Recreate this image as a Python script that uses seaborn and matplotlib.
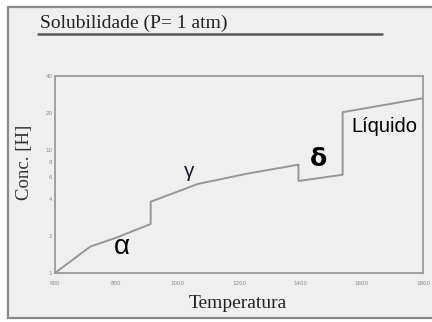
import matplotlib
matplotlib.use("Agg")
import matplotlib.pyplot as plt
import seaborn as sns
import numpy as np
from matplotlib.patches import Rectangle
from matplotlib.lines import Line2D
from matplotlib.ticker import FixedLocator, FixedFormatter, NullFormatter

# Data
temperature = [600, 715, 803, 895, 912, 912, 1066, 1230, 1394, 1394, 1538, 1538, 1800]
concentration = [1.0, 1.64, 1.95, 2.41, 2.5, 3.8, 5.3, 6.45, 7.6, 5.6, 6.3, 20.3, 26.4]
x_ticks = [600, 800, 1000, 1200, 1400, 1600, 1800]
y_ticks = [1, 2, 4, 6, 8, 10, 20, 40]
y_minor = [3, 5, 7, 9, 30]
phase_labels = ["α", "γ", "δ", "Líquido"]

sns.set_style("white")
W, H = 432, 322
fig = plt.figure(figsize=(W / 100, H / 100), dpi=100)
fig.patch.set_facecolor("white")

# panel background with border
fig.patches.append(Rectangle((8 / W, 4 / H), 1.05, 1 - 11 / H, transform=fig.transFigure,
                             facecolor="#efefef", edgecolor="#8a8a8a", lw=1.6, zorder=-5))

ax = fig.add_axes([55 / W, 1 - 273 / H, (423 - 55) / W, (273 - 76) / H])
ax.set_facecolor("#efefef")
ax.set_zorder(2)

sns.lineplot(x=temperature, y=concentration, sort=False, estimator=None,
             color="#969696", lw=1.4, ax=ax)

ax.set_yscale("log")
ax.set_xlim(600, 1800)
ax.set_ylim(1, 40)
ax.xaxis.set_major_locator(FixedLocator(x_ticks))
ax.set_xticklabels([str(t) for t in x_ticks])
ax.yaxis.set_major_locator(FixedLocator(y_ticks))
ax.yaxis.set_major_formatter(FixedFormatter([str(t) for t in y_ticks]))
ax.yaxis.set_minor_locator(FixedLocator(y_minor))
ax.yaxis.set_minor_formatter(NullFormatter())
ax.tick_params(axis="both", which="both", direction="in", length=3, width=0.8,
               colors="#9a9a9a", labelsize=4, labelcolor="#8a8a8a", pad=2)
ax.tick_params(axis="y", which="minor", length=2)
ax.tick_params(axis="x", pad=6)
for s in ax.spines.values():
    s.set_color("#9a9a9a")
    s.set_linewidth(1.3)

serif = ["Liberation Serif", "DejaVu Serif"]
sans = ["Liberation Sans", "DejaVu Sans"]

# axis labels
fig.text(238 / W, 1 - 304 / H, "Temperatura", family=serif, fontsize=14, color="#222222",
         ha="center", va="center")
fig.text(25 / W, 1 - 162 / H, "Conc. [H]", family=serif, fontsize=13.5, color="#333333",
         ha="center", va="center", rotation=90)

# title with underline
fig.text(40 / W, 1 - 28 / H, "Solubilidade (P= 1 atm)", family=serif, fontsize=14,
         color="#222222", ha="left", va="baseline")
fig.add_artist(Line2D([38 / W, 382 / W], [1 - 34 / H, 1 - 34 / H], transform=fig.transFigure,
                      color="#555555", lw=1.8))

# phase labels
ax.text(818, 1.62, phase_labels[0], fontsize=20, color="black", ha="center", va="center",
        family=sans)
ax.text(1039, 6.68, phase_labels[1], fontsize=15, color="#1a1a2e", ha="center", va="center",
        family=sans)
ax.text(1459, 8.4, phase_labels[2], fontsize=18, color="black", ha="center", va="center",
        fontweight="bold", family=["DejaVu Sans"])
ax.text(1567, 15.6, phase_labels[3], fontsize=14.5, color="black", ha="left", va="center",
        family=sans)

fig.savefig("out.png", dpi=100, facecolor=fig.get_facecolor())
